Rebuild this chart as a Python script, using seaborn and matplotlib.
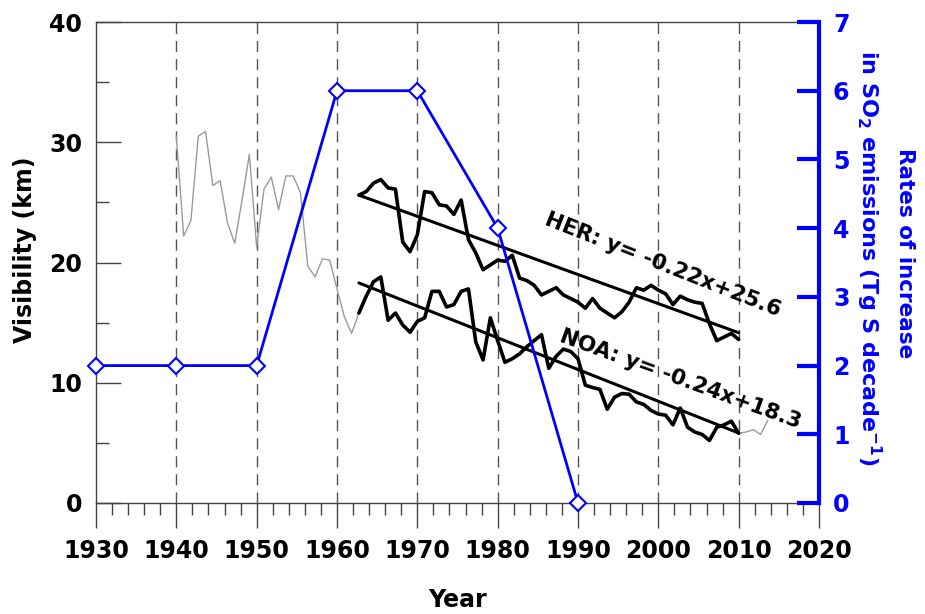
import matplotlib.pyplot as plt
import seaborn as sns
import numpy as np

# SO2 emission increase rate (Tg S per decade), right axis
so2_years = [1930, 1940, 1950, 1960, 1970, 1980, 1990]
so2_rates = [2, 2, 2, 6, 6, 4, 0]

# NOA visibility (km) before the fitted period, thin grey
noa_early = [30.5, 22.2, 23.5, 30.5, 30.9, 26.4, 26.8, 23.3, 21.6, 25.2,
             29.0, 21.3, 26.1, 27.1, 24.4, 27.2, 27.2, 25.8, 19.7, 18.8,
             20.3, 20.2, 17.8, 15.5, 14.1]
# fitted period (thick black)
noa = [15.8, 17.2, 18.4, 18.8, 15.2, 15.8, 14.8, 14.2, 15.1, 15.4,
       17.6, 17.6, 16.3, 16.5, 17.6, 17.8, 13.4, 11.9, 15.4, 13.5,
       11.7, 12.0, 12.4, 13.0, 13.5, 14.0, 11.2, 12.2, 12.8, 12.6,
       12.0, 9.8, 9.6, 9.45, 7.8, 8.8, 9.1, 9.05, 8.4, 8.2,
       7.7, 7.4, 7.3, 6.5, 7.9, 6.3, 5.9, 5.7, 5.2, 6.3,
       6.5, 6.8, 5.8]
her = [25.6, 25.9, 26.6, 26.9, 26.2, 26.1, 21.7, 20.9, 22.3, 25.9,
       25.8, 24.8, 24.7, 24.0, 25.2, 21.9, 20.8, 19.4, 19.8, 20.2,
       20.1, 20.6, 18.7, 18.5, 18.1, 17.3, 17.6, 17.9, 17.3, 17.0,
       16.7, 16.2, 17.0, 16.2, 15.8, 15.4, 15.9, 16.7, 17.9, 17.7,
       18.1, 17.7, 17.4, 16.5, 17.2, 16.9, 16.7, 16.6, 14.9, 13.5,
       13.8, 14.1, 13.6]
# after the fitted period, thin grey
noa_tail = [5.9, 6.1, 5.7, 6.9]

# fitted trends, as labelled on the chart
her_fit = (-0.22, 25.6)
noa_fit = (-0.24, 18.3)

# record spacing: the thin+thick record spans 1940..2010
step = (2010 - 1940) / (len(noa_early) + len(noa) - 1)
noa_full = noa_early + noa + noa_tail
x_full = 1940 + step * np.arange(len(noa_full))
x_fit = x_full[len(noa_early):len(noa_early) + len(noa)]
idx = np.arange(len(noa))

sns.set_theme(style="white")
plt.rcParams['font.family'] = ['DejaVu Sans']
plt.rcParams['font.weight'] = 'bold'
plt.rcParams['mathtext.default'] = 'bf'
plt.rcParams['text.color'] = 'black'
plt.rcParams['xtick.labelcolor'] = 'black'
plt.rcParams['ytick.labelcolor'] = 'black'

fig = plt.figure(figsize=(9.25, 6.14), dpi=100)
ax = fig.add_axes([96 / 925, 1 - 503 / 614, (819 - 96) / 925, (503 - 22) / 614])

sns.lineplot(x=x_full, y=noa_full, ax=ax, color='#9a9a9a', lw=1.0,
             sort=False, estimator=None)
sns.lineplot(x=x_fit, y=her, ax=ax, color='black', lw=2.6, sort=False, estimator=None)
sns.lineplot(x=x_fit, y=noa, ax=ax, color='black', lw=2.6, sort=False, estimator=None)
sns.lineplot(x=x_fit, y=her_fit[0] * idx + her_fit[1], ax=ax, color='black', lw=2.2,
             sort=False, estimator=None)
sns.lineplot(x=x_fit, y=noa_fit[0] * idx + noa_fit[1], ax=ax, color='black', lw=2.2,
             sort=False, estimator=None)

ax.set_xlim(1930, 2020)
ax.set_ylim(0, 40)
ax.set_xticks(range(1930, 2021, 10))
ax.set_xticks(range(1930, 2021, 2), minor=True)
ax.set_yticks(range(0, 41, 10))
ax.set_yticks(range(0, 41, 5), minor=True)
for v in range(1940, 2020, 10):
    ax.axvline(v, color='#555555', lw=1.0, linestyle=(0, (8, 5)), zorder=0)

ax.tick_params(axis='x', which='major', direction='out', length=18, width=1.0,
               color='#444444', labelsize=17, pad=8, labelcolor='black')
ax.tick_params(axis='x', which='minor', direction='out', length=8.5, width=1.0,
               color='#444444')
ax.tick_params(axis='y', which='major', direction='in', length=18, width=1.0,
               color='#444444', labelsize=17, pad=10, left=True, labelcolor='black')
ax.tick_params(axis='y', which='minor', direction='in', length=9, width=1.0,
               color='#444444', left=True)
ax.tick_params(axis='x', bottom=True, which='both')
for lab in ax.get_xticklabels() + ax.get_yticklabels():
    lab.set_fontweight('bold')
for s in ['left', 'bottom', 'top']:
    ax.spines[s].set_color('#444444')
    ax.spines[s].set_linewidth(1.0)
ax.spines['right'].set_visible(False)
ax.set_xlabel('')
ax.set_ylabel('')

ax.text(2000.5, 19.8, 'HER: y= -0.22x+25.6', rotation=-21.5, fontsize=15.5,
        fontweight='bold', ha='center', va='center', rotation_mode='anchor',
        color='black')
ax.text(2002.8, 10.3, 'NOA: y= -0.24x+18.3', rotation=-20, fontsize=15.5,
        fontweight='bold', ha='center', va='center', rotation_mode='anchor',
        color='black')

ax2 = ax.twinx()
sns.lineplot(x=so2_years, y=so2_rates, ax=ax2, color='#0000ff', lw=2.0,
             marker='D', markersize=8, markerfacecolor='white',
             markeredgecolor='#0000ff', markeredgewidth=1.5, clip_on=False,
             sort=False, estimator=None)
ax2.set_ylim(0, 7)
ax2.set_yticks(range(0, 8))
ax2.tick_params(axis='y', direction='in', length=16, width=3, color='#0000ff',
                labelcolor='#0000ff', labelsize=17, pad=10, right=True)
for lab in ax2.get_yticklabels():
    lab.set_fontweight('bold')
for s in ['left', 'bottom', 'top']:
    ax2.spines[s].set_visible(False)
ax2.spines['right'].set_color('#0000ff')
ax2.spines['right'].set_linewidth(3)
ax2.set_ylabel('')

fig.text(457 / 925, 1 - 600 / 614, 'Year', ha='center', va='center',
         fontsize=17, fontweight='bold')
fig.text(25 / 925, 1 - 250 / 614, 'Visibility (km)', ha='center', va='center',
         rotation=90, fontsize=17, fontweight='bold')
fig.text(905 / 925, 1 - 253 / 614, 'Rates of increase', ha='center', va='center',
         rotation=270, fontsize=15.5, fontweight='bold', color='#0000ff')
fig.text(869 / 925, 1 - 258 / 614, r'in SO$_2$ emissions (Tg S decade$^{-1}$)',
         ha='center', va='center', rotation=270, fontsize=16, fontweight='bold',
         color='#0000ff')

fig.savefig('out.png', dpi=100)
